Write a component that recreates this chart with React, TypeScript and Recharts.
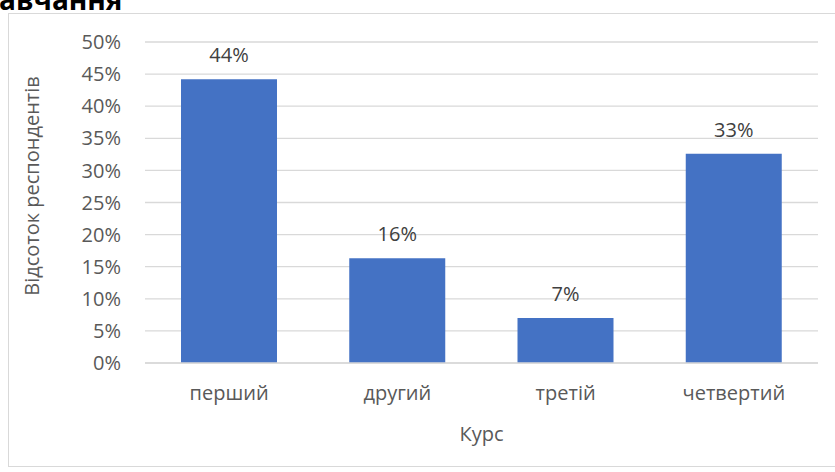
import { BarChart, Bar, XAxis, YAxis, CartesianGrid, LabelList } from "recharts";

const courses = ["перший", "другий", "третій", "четвертий"];
const shares = [44.2, 16.3, 7.0, 32.6];
const yTicks = [0, 5, 10, 15, 20, 25, 30, 35, 40, 45, 50];

const data = courses.map((course, i) => ({ course, share: shares[i] }));

const font = "'Open Sans', sans-serif";

const YTitle = () => (
  <text
    x={31}
    y={186}
    transform="rotate(-90, 31, 186)"
    textAnchor="middle"
    dominantBaseline="central"
    fontFamily={font}
    fontSize={20}
    fill="#595959"
  >
    Відсоток респондентів
  </text>
);

export default function App() {
  return (
    <div
      style={{
        position: "absolute",
        left: 0,
        top: 0,
        width: 835,
        height: 472,
        overflow: "hidden",
        background: "#fff",
      }}
    >
      <div
        style={{
          position: "absolute",
          left: 8,
          top: 13,
          width: 840,
          height: 452,
          border: "1px solid #D9D9D9",
        }}
      />
      <div
        style={{
          position: "absolute",
          left: -1,
          top: -15,
          fontFamily: font,
          fontWeight: 700,
          fontSize: 28,
          lineHeight: "28px",
          color: "#000",
          whiteSpace: "nowrap",
        }}
      >
        авчання
      </div>
      <div style={{ position: "absolute", left: 0, top: 0 }}>
        <BarChart
          width={835}
          height={472}
          data={data}
          margin={{ top: 42, right: 17, left: 0, bottom: 29 }}
        >
          <CartesianGrid vertical={false} stroke="#D9D9D9" strokeWidth={1.3} />
          <XAxis
            dataKey="course"
            height={80}
            axisLine={{ stroke: "#D9D9D9", strokeWidth: 1.3 }}
            tickLine={false}
            tickMargin={17}
            tick={{ fill: "#595959", fontSize: 20, fontFamily: font }}
            label={{
              value: "Курс",
              position: "insideBottom",
              offset: 2,
              fill: "#595959",
              fontSize: 20,
              fontFamily: font,
            }}
          />
          <YAxis
            width={145}
            domain={[0, 50]}
            ticks={yTicks}
            axisLine={false}
            tickLine={false}
            tickMargin={18}
            tickFormatter={(v: number) => `${v}%`}
            tick={{ fill: "#595959", fontSize: 20, fontFamily: font }}
            label={<YTitle />}
          />
          <Bar dataKey="share" fill="#4472C4" barSize={96} isAnimationActive={false}>
            <LabelList
              dataKey="share"
              position="top"
              offset={17}
              formatter={(v: number) => `${Math.round(v)}%`}
              fill="#404040"
              fontSize={20}
              fontFamily={font}
            />
          </Bar>
        </BarChart>
      </div>
    </div>
  );
}
